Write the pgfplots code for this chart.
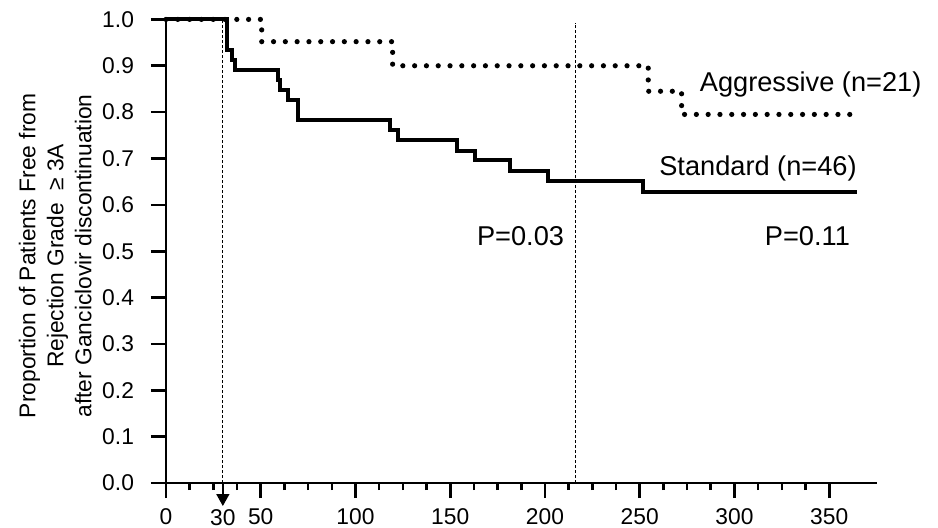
\documentclass[border=0pt]{standalone}
\usepackage{fontspec}
\setmainfont{Liberation Sans}
\usepackage{pgfplots}
\pgfplotsset{compat=1.18}
\usetikzlibrary{arrows.meta}
\begin{document}
\begin{tikzpicture}
\path[use as bounding box] (-83pt,-22pt) rectangle (386pt,241.5pt);
\begin{axis}[
  at={(0,0)}, anchor=south west, scale only axis,
  width=355.3pt, height=231.8pt,
  xmin=0, xmax=375, ymin=0, ymax=1,
  clip=false,
  axis lines=left,
  axis line style={-, line width=0.6pt},
  tick align=outside,
  xtick={0,50,100,150,200,250,300,350},
  minor x tick num=3,
  ytick={0,0.1,0.2,0.3,0.4,0.5,0.6,0.7,0.8,0.9,1.0},
  yticklabel style={/pgf/number format/.cd, fixed, fixed zerofill, precision=1, /tikz/.cd, xshift=-5pt},
  xticklabel style={inner sep=0.5pt, yshift=-4.8pt},
  /pgf/number format/assume math mode=true,
  tick label style={font=\fontsize{11.4}{13}\selectfont},
  major tick length=7.5pt, minor tick length=3.5pt,
  every tick/.style={black, line width=1.3pt},
  extra x ticks={30},
  extra x tick style={major tick length=0pt, xticklabel style={yshift=-7.6pt}},
  ylabel={Proportion of Patients Free from\\Rejection Grade\ \ ≥ 3A\\after Ganciclovir discontinuation},
  ylabel style={at={(axis description cs:-0.156,0.49)}, anchor=center, align=center, font=\fontsize{11.4}{14}\selectfont},
]
\addplot[black, line width=0.5pt, dash pattern=on 1.5pt off 1pt] coordinates {(30,0) (30,1)};
\addplot[black, line width=0.5pt, dash pattern=on 1.5pt off 1pt] coordinates {(216,0) (216,0.993)};
\addplot[black, line width=2.6pt, line cap=round, dash pattern=on 0pt off 5.9pt, const plot] coordinates {
(0,1.0) (50.5,0.952) (119.6,0.90) (254.5,0.845) (272.1,0.795) (362.7,0.795)};
\addplot[black, line width=2pt, const plot] coordinates {
(0,1.0) (32,0.935) (34.7,0.913) (36.4,0.891) (58.9,0.870) (60.2,0.848) (64.6,0.826) (69.8,0.783)
(118.2,0.761) (122.6,0.739) (153.8,0.717) (163.1,0.696) (181.5,0.674) (201.8,0.652) (251.9,0.628) (364.5,0.628)};
\draw[black, line width=0.8pt, -{Triangle[length=6pt,width=6.5pt]}] (axis cs:30,0) -- ++(0,-11.5pt);
\node[font=\fontsize{13.6}{16}\selectfont] at (axis cs:340.2,0.860) {Aggressive (n=21)};
\node[font=\fontsize{13.6}{16}\selectfont] at (axis cs:312.4,0.678) {Standard (n=46)};
\node[font=\fontsize{13.6}{16}\selectfont] at (axis cs:187.1,0.532) {P=0.03};
\node[font=\fontsize{13.6}{16}\selectfont] at (axis cs:338.5,0.532) {P=0.11};
\end{axis}
\end{tikzpicture}
\end{document}
